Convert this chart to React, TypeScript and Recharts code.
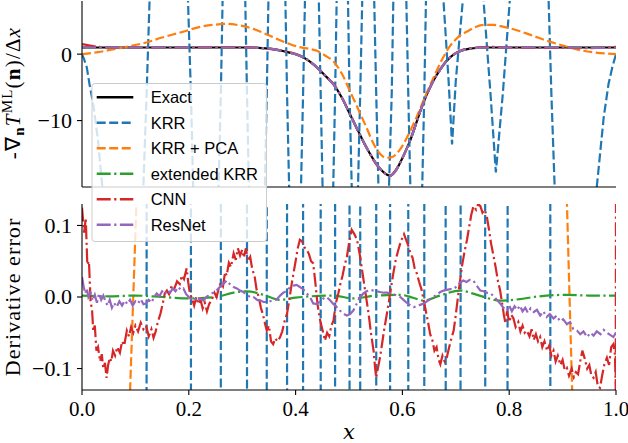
import React from 'react';
import { LineChart, Line, XAxis, YAxis } from 'recharts';

// ---------- ticks / names ----------
const xTicks = [0, 0.2, 0.4, 0.6, 0.8, 1.0];
const topYTicks = [-20, -10, 0];
const bottomYTicks = [-0.1, 0, 0.1];

const seriesNames = ['Exact', 'KRR', 'KRR + PCA', 'extended KRR', 'CNN', 'ResNet'];
const seriesColors = ['#000000', '#1f77b4', '#ff7f0e', '#2ca02c', '#d62728', '#9467bd'];
const seriesDash = ['', '9 3.5', '9 3.5', '14 3.5 2.2 3.5', '14 3.5 2.2 3.5', '14 3.5 2.2 3.5'];

// ---------- top panel: derivative ----------
const topX = [0, 0.05, 0.1, 0.15, 0.2, 0.25, 0.3, 0.33, 0.358, 0.38, 0.408, 0.425, 0.44, 0.455, 0.471, 0.487, 0.502, 0.518, 0.533, 0.552, 0.565, 0.577, 0.587, 0.596, 0.606, 0.615, 0.625, 0.633, 0.645, 0.658, 0.67, 0.683, 0.695, 0.708, 0.725, 0.74, 0.76, 0.8, 0.85, 0.9, 0.95, 1.0];
const exactTop = [1.0, 1.0, 1.0, 1.0, 1.0, 1.0, 1.0, 0.95, 0.75, 0.4, -0.25, -1.0, -2.0, -3.2, -4.55, -6.6, -9.1, -11.7, -14.1, -16.6, -17.8, -18.3, -17.6, -16.3, -14.6, -12.9, -10.6, -8.7, -6.2, -4.0, -2.4, -1.0, -0.1, 0.45, 0.8, 0.95, 1.0, 1.0, 1.0, 1.0, 1.0, 1.0];
const extKrrTop = [1.0, 1.0, 1.0, 1.0, 1.0, 1.0, 1.0, 0.95, 0.75, 0.4, -0.25, -1.0, -2.0, -3.2, -4.55, -6.6, -9.1, -11.7, -14.1, -16.6, -17.8, -18.3, -17.6, -16.3, -14.6, -12.9, -10.6, -8.7, -6.2, -4.0, -2.4, -1.0, -0.1, 0.45, 0.8, 0.95, 1.0, 1.0, 1.0, 1.0, 1.0, 1.0];
const cnnTop = [1.5, 1.0, 1.0, 1.0, 1.0, 1.05, 1.05, 0.95, 0.7, 0.45, -0.2, -1.05, -2.0, -3.25, -4.5, -6.6, -9.0, -11.8, -14.1, -16.7, -17.8, -18.3, -17.5, -16.3, -14.6, -12.8, -10.6, -8.7, -6.3, -4.0, -2.4, -1.0, -0.1, 0.5, 0.85, 1.0, 1.1, 1.0, 0.95, 0.95, 0.9, 1.1];
const resnetTop = [1.0, 1.0, 1.0, 1.0, 1.0, 1.0, 1.0, 0.95, 0.75, 0.4, -0.25, -1.0, -2.0, -3.2, -4.55, -6.6, -9.1, -11.7, -14.1, -16.6, -17.8, -18.3, -17.6, -16.3, -14.6, -12.9, -10.6, -8.7, -6.2, -4.0, -2.4, -1.0, -0.1, 0.45, 0.8, 0.95, 1.0, 1.0, 1.0, 1.0, 0.95, 0.95];

const pcaTop: number[][] = [
  [0, 0], [0.03, 0.3], [0.06, 0.75], [0.09, 1.2], [0.12, 1.75], [0.15, 2.5], [0.184, 3.25], [0.221, 4.1],
  [0.25, 4.45], [0.271, 4.55], [0.3, 4.25], [0.321, 3.8], [0.345, 3.0], [0.365, 2.3], [0.39, 1.5], [0.408, 1.05],
  [0.425, 0.8], [0.44, 0.5], [0.455, -0.2], [0.471, -1.1], [0.487, -3.0], [0.502, -5.6], [0.518, -8.4],
  [0.533, -11.1], [0.546, -13.5], [0.558, -15.0], [0.57, -15.6], [0.58, -15.5], [0.596, -14.3], [0.612, -12.0],
  [0.627, -9.4], [0.643, -6.3], [0.658, -3.6], [0.673, -1.0], [0.689, 1.2], [0.705, 2.6], [0.721, 3.4],
  [0.737, 4.1], [0.752, 4.4], [0.771, 4.4], [0.79, 4.1], [0.808, 3.75], [0.84, 2.9], [0.871, 2.0],
  [0.9, 1.3], [0.933, 0.6], [0.96, 0.25], [1.0, 0.0],
];

const krrTop: number[][] = [
  [0, 0], [0.004, -0.8], [0.009, -2], [0.014, -4.5], [0.021, -7.5], [0.03, -13], [0.038, -20], [0.08, -100],
  [0.121, -6], [0.1625, 100], [0.204, -6], [0.232, -100], [0.26, -6], [0.2845, 100], [0.309, -6],
  [0.3275, -80], [0.346, -6], [0.365, 80], [0.384, -6], [0.399, -60], [0.414, -6], [0.4305, 60],
  [0.447, -6], [0.4605, -60], [0.474, -6], [0.4875, 60], [0.501, -6], [0.511, -40], [0.521, -6],
  [0.536, 50], [0.551, -6], [0.564, -50], [0.58, -6], [0.594, 60], [0.611, -6], [0.626, -60],
  [0.641, -6], [0.66, 80], [0.677, 8], [0.6865, -4], [0.693, -13.6], [0.7, -4], [0.713, 8], [0.732, 100],
  [0.752, 8], [0.765, -6], [0.775, -17.8], [0.788, -6], [0.801, 8], [0.84, 100], [0.879, -6], [0.92, -100],
  [0.964, -20], [0.977, -9.5], [0.986, -4.5], [0.993, -2], [1.0, 0],
];

// ---------- bottom panel: derivative error ----------
const krrErr: number[][] = [
  [0, -1], [0.04, -20], [0.08, -100], [0.121, 0], [0.1625, 100], [0.204, 0], [0.232, -100], [0.26, 0],
  [0.2845, 100], [0.309, 0], [0.3275, -100], [0.346, 0], [0.365, 100], [0.384, 0], [0.399, -100], [0.414, 0],
  [0.4305, 100], [0.447, 0], [0.4605, -100], [0.474, 0], [0.4875, 100], [0.501, 0], [0.511, -100], [0.521, 0],
  [0.536, 100], [0.551, 0], [0.564, -100], [0.577, 0], [0.594, 100], [0.611, 0], [0.626, -100], [0.641, 0],
  [0.66, 100], [0.681, 0], [0.693, -14.6], [0.709, 0], [0.732, 100], [0.755, 0], [0.777, -18.8], [0.797, 0],
  [0.84, 100], [0.877, 0], [0.92, -100], [0.964, -21], [1.0, -1],
];

const pcaErr: number[][] = [
  [0, -1], [0.04, -0.9], [0.08, -0.35], [0.096, 0], [0.115, 0.42], [0.2, 3.2], [0.3, 3.3], [0.4, 1.2],
  [0.45, 2.3], [0.5, 3.5], [0.577, 2.7], [0.63, 3.0], [0.7, 2.3], [0.77, 3.4], [0.85, 1.8], [0.88, 0.8],
  [0.9, 0.35], [0.913, 0], [0.93, -0.45], [1.0, -1],
];

const extErr: number[][] = [
  [0, 0.002], [0.05, 0.001], [0.1, 0.002], [0.15, 0.0], [0.2, -0.002], [0.25, 0.0], [0.284, 0.006],
  [0.309, 0.008], [0.34, 0.003], [0.37, -0.004], [0.4, -0.001], [0.43, 0.001], [0.471, 0.002],
  [0.508, -0.002], [0.55, 0.002], [0.596, 0.003], [0.62, -0.001], [0.64, -0.005], [0.67, 0.002],
  [0.708, 0.009], [0.74, 0.003], [0.783, -0.005], [0.82, -0.003], [0.846, 0.0], [0.908, 0.003],
  [0.95, 0.002], [1.0, 0.002],
];

const cnnErr: number[][] = [
  [0, 0.125], [0.004, 0.09], [0.007, 0.11], [0.01, 0.045], [0.013, 0.05], [0.016, -0.005], [0.019, -0.02],
  [0.021, -0.047], [0.024, -0.04], [0.027, -0.075], [0.03, -0.07], [0.034, -0.09], [0.037, -0.08],
  [0.04, -0.1], [0.043, -0.092], [0.046, -0.113], [0.049, -0.095], [0.052, -0.085], [0.055, -0.09],
  [0.058, -0.075], [0.062, -0.082], [0.066, -0.07], [0.071, -0.078], [0.075, -0.062], [0.079, -0.068],
  [0.084, -0.047], [0.088, -0.055], [0.092, -0.042], [0.096, -0.05], [0.1, -0.04], [0.105, -0.048],
  [0.11, -0.036], [0.115, -0.045], [0.12, -0.04], [0.125, -0.055], [0.13, -0.045], [0.134, -0.057],
  [0.138, -0.048], [0.142, -0.035], [0.147, -0.023], [0.151, -0.01], [0.155, 0.005], [0.159, 0.009],
  [0.163, 0.004], [0.168, 0.016], [0.173, 0.012], [0.178, 0.022], [0.183, 0.018], [0.187, 0.03],
  [0.191, 0.025], [0.196, 0.04], [0.199, 0.02], [0.202, 0.005], [0.206, -0.002], [0.21, -0.012],
  [0.214, 0.0], [0.218, -0.01], [0.222, -0.004], [0.226, -0.016], [0.23, -0.008], [0.234, -0.02],
  [0.238, -0.01], [0.243, -0.004], [0.248, 0.006], [0.252, 0.0], [0.256, 0.012], [0.26, 0.02],
  [0.264, 0.015], [0.268, 0.035], [0.271, 0.03], [0.275, 0.048], [0.279, 0.042], [0.284, 0.061],
  [0.288, 0.052], [0.292, 0.068], [0.296, 0.058], [0.3, 0.066], [0.303, 0.055], [0.307, 0.068],
  [0.311, 0.05], [0.315, 0.056], [0.319, 0.038], [0.323, 0.03], [0.327, 0.01], [0.331, 0.0],
  [0.335, -0.015], [0.339, -0.025], [0.343, -0.038], [0.346, -0.047], [0.35, -0.04], [0.354, -0.062],
  [0.358, -0.066], [0.362, -0.058], [0.366, -0.062], [0.371, -0.056], [0.375, -0.048], [0.379, -0.035],
  [0.384, -0.023], [0.388, -0.005], [0.392, 0.015], [0.396, 0.033], [0.4, 0.05], [0.404, 0.068],
  [0.408, 0.08], [0.412, 0.078], [0.416, 0.07], [0.421, 0.066], [0.425, 0.06], [0.429, 0.05],
  [0.433, 0.047], [0.437, 0.02], [0.441, -0.01], [0.446, -0.033], [0.45, -0.045], [0.455, -0.061],
  [0.459, -0.05], [0.463, -0.055], [0.467, -0.04], [0.471, -0.033], [0.475, -0.01], [0.48, 0.005],
  [0.484, 0.019], [0.488, 0.03], [0.492, 0.045], [0.496, 0.056], [0.5, 0.075], [0.505, 0.094],
  [0.51, 0.088], [0.515, 0.08], [0.52, 0.06], [0.525, 0.035], [0.529, 0.015], [0.533, -0.005],
  [0.537, -0.025], [0.541, -0.05], [0.546, -0.075], [0.549, -0.1], [0.551, -0.113], [0.554, -0.1],
  [0.558, -0.085], [0.562, -0.065], [0.566, -0.045], [0.571, -0.023], [0.575, -0.005], [0.579, 0.015],
  [0.583, 0.033], [0.587, 0.05], [0.592, 0.065], [0.596, 0.075], [0.6, 0.083], [0.603, 0.088],
  [0.607, 0.08], [0.611, 0.072], [0.615, 0.061], [0.619, 0.055], [0.623, 0.04], [0.627, 0.033],
  [0.631, 0.022], [0.636, 0.01], [0.64, -0.005], [0.644, -0.02], [0.648, -0.035], [0.652, -0.052],
  [0.656, -0.06], [0.66, -0.075], [0.664, -0.07], [0.668, -0.088], [0.671, -0.094], [0.675, -0.082],
  [0.679, -0.09], [0.683, -0.085], [0.687, -0.072], [0.691, -0.06], [0.696, -0.047], [0.7, -0.025],
  [0.704, 0.0], [0.708, 0.023], [0.712, 0.045], [0.716, 0.062], [0.721, 0.08], [0.725, 0.098],
  [0.729, 0.115], [0.733, 0.127], [0.738, 0.122], [0.742, 0.13], [0.746, 0.127], [0.75, 0.118],
  [0.754, 0.122], [0.758, 0.113], [0.762, 0.095], [0.766, 0.075], [0.771, 0.056], [0.775, 0.04],
  [0.779, 0.022], [0.783, 0.009], [0.787, -0.01], [0.79, -0.025], [0.793, -0.037], [0.796, -0.02],
  [0.8, -0.035], [0.804, -0.025], [0.808, -0.03], [0.812, -0.042], [0.817, -0.035], [0.821, -0.048],
  [0.825, -0.04], [0.829, -0.05], [0.833, -0.047], [0.838, -0.055], [0.842, -0.045], [0.846, -0.06],
  [0.85, -0.052], [0.854, -0.062], [0.858, -0.056], [0.862, -0.07], [0.866, -0.062], [0.871, -0.075],
  [0.875, -0.068], [0.879, -0.082], [0.883, -0.075], [0.887, -0.09], [0.891, -0.082], [0.896, -0.095],
  [0.9, -0.088], [0.904, -0.102], [0.908, -0.099], [0.912, -0.11], [0.917, -0.1], [0.921, -0.112],
  [0.925, -0.105], [0.929, -0.108], [0.933, -0.09], [0.937, -0.075], [0.941, -0.085], [0.946, -0.1],
  [0.95, -0.095], [0.954, -0.11], [0.958, -0.113], [0.962, -0.105], [0.966, -0.125], [0.97, -0.127],
  [0.974, -0.11], [0.978, -0.095], [0.983, -0.085], [0.987, -0.095], [0.991, -0.07], [0.995, -0.066],
  [0.998, -0.08], [0.9995, -0.13], [1.0, 0.15],
];

const resnetErr: number[][] = [
  [0, 0.028], [0.003, 0.015], [0.006, 0.005], [0.009, 0.012], [0.012, 0.0], [0.016, 0.006], [0.02, -0.005],
  [0.024, 0.003], [0.028, -0.008], [0.032, 0.005], [0.036, -0.004], [0.04, 0.002], [0.044, -0.006],
  [0.048, -0.012], [0.052, -0.004], [0.056, -0.015], [0.06, -0.008], [0.065, -0.014], [0.07, -0.006],
  [0.075, -0.012], [0.08, -0.005], [0.085, -0.01], [0.09, -0.004], [0.095, -0.012], [0.1, -0.006],
  [0.105, -0.009], [0.11, -0.003], [0.115, -0.01], [0.12, -0.009], [0.125, -0.004], [0.13, -0.008],
  [0.135, 0.0], [0.14, 0.005], [0.145, 0.001], [0.15, 0.008], [0.155, 0.004], [0.16, 0.01], [0.165, 0.006],
  [0.17, 0.012], [0.175, 0.008], [0.18, 0.014], [0.185, 0.01], [0.19, 0.012], [0.195, 0.004], [0.2, 0.0],
  [0.205, -0.003], [0.21, -0.001], [0.215, -0.006], [0.22, -0.002], [0.227, -0.005], [0.233, 0.0],
  [0.24, 0.004], [0.246, 0.006], [0.252, 0.009], [0.258, 0.014], [0.264, 0.018], [0.271, 0.023],
  [0.277, 0.018], [0.284, 0.014], [0.29, 0.012], [0.296, 0.009], [0.302, 0.007], [0.309, 0.003],
  [0.315, 0.0], [0.321, 0.0], [0.328, -0.004], [0.334, -0.005], [0.34, -0.007], [0.346, -0.007],
  [0.352, -0.006], [0.358, -0.005], [0.365, -0.003], [0.371, 0.002], [0.377, 0.006], [0.384, 0.009],
  [0.39, 0.014], [0.396, 0.016], [0.402, 0.017], [0.408, 0.014], [0.414, 0.011], [0.421, 0.005],
  [0.427, 0.0], [0.433, -0.009], [0.44, -0.01], [0.446, -0.006], [0.452, -0.002], [0.458, 0.0],
  [0.465, -0.005], [0.471, -0.01], [0.477, -0.014], [0.483, -0.019], [0.489, -0.023], [0.496, -0.026],
  [0.502, -0.024], [0.508, -0.019], [0.514, -0.01], [0.521, 0.0], [0.527, 0.005], [0.533, 0.008],
  [0.54, 0.01], [0.546, 0.009], [0.552, 0.008], [0.558, 0.007], [0.565, 0.006], [0.571, 0.006],
  [0.577, 0.005], [0.583, 0.004], [0.59, 0.002], [0.596, 0.0], [0.602, -0.004], [0.608, -0.008],
  [0.615, -0.012], [0.621, -0.014], [0.627, -0.013], [0.633, -0.011], [0.64, -0.009], [0.646, -0.006],
  [0.652, -0.003], [0.658, 0.0], [0.665, 0.004], [0.671, 0.007], [0.677, 0.009], [0.683, 0.01],
  [0.69, 0.011], [0.696, 0.011], [0.702, 0.015], [0.708, 0.02], [0.714, 0.023], [0.72, 0.021],
  [0.726, 0.024], [0.733, 0.023], [0.739, 0.016], [0.746, 0.009], [0.752, 0.008], [0.758, 0.006],
  [0.765, 0.005], [0.771, 0.001], [0.777, -0.004], [0.783, -0.009], [0.789, -0.015], [0.796, -0.019],
  [0.8, -0.012], [0.805, -0.02], [0.81, -0.013], [0.815, -0.018], [0.82, -0.012], [0.825, -0.02],
  [0.83, -0.015], [0.835, -0.022], [0.84, -0.016], [0.846, -0.021], [0.852, -0.018], [0.858, -0.026],
  [0.864, -0.02], [0.87, -0.028], [0.876, -0.024], [0.883, -0.03], [0.889, -0.026], [0.895, -0.034],
  [0.901, -0.031], [0.908, -0.038], [0.914, -0.035], [0.92, -0.045], [0.927, -0.047], [0.933, -0.052],
  [0.939, -0.048], [0.946, -0.056], [0.952, -0.05], [0.958, -0.054], [0.964, -0.048], [0.971, -0.052],
  [0.977, -0.046], [0.983, -0.05], [0.989, -0.053], [0.995, -0.056], [1.0, -0.05],
];

// ---------- helpers ----------
const serif = 'Liberation Serif';
const italicSerif = 'DejaVu Serif';
const sans = 'Liberation Sans';
const toPts = (arr: number[][]) => arr.map(([x, y]) => ({ x, y }));
const colPts = (ys: number[]) => topX.map((x, i) => ({ x, y: ys[i] }));
const minus = (s: string) => s.replace('-', '\u2212');

const W = 628;
const PLOT_LEFT = 82;
const PLOT_RIGHT_MARGIN = 12;
const TOP_H = 192;
const BOT_H = 251;
const FRAME = { stroke: '#000', strokeWidth: 1.1 };
const serifStyle = { fontFamily: serif };

const YTickTop = (props: any) => {
  const { x, y, payload } = props;
  return (
    <text x={x} y={y} dy="0.34em" textAnchor="end" style={serifStyle} fontSize={22} fill="#000">
      {minus(String(payload.value))}
    </text>
  );
};

const YTickBottom = (props: any) => {
  const { x, y, payload } = props;
  return (
    <text x={x} y={y} dy="0.34em" textAnchor="end" style={serifStyle} fontSize={22} fill="#000">
      {minus(Number(payload.value).toFixed(1))}
    </text>
  );
};

const XTickBottom = (props: any) => {
  const { x, y, payload } = props;
  return (
    <text x={x} y={y} dy="0.68em" textAnchor="middle" style={serifStyle} fontSize={21} fill="#000">
      {Number(payload.value).toFixed(1)}
    </text>
  );
};

const TopYLabel = () => {
  const cx = 19.5;
  const cy = 93;
  return (
    <text
      x={cx}
      y={cy}
      transform={`rotate(-90, ${cx}, ${cy})`}
      textAnchor="middle"
      style={serifStyle}
      fontSize={21}
      letterSpacing={1.2}
      fill="#000"
    >
      <tspan>-∇</tspan>
      <tspan fontWeight="bold" fontSize={15} dy={4}>n</tspan>
      <tspan fontStyle="italic" dy={-4}>T</tspan>
      <tspan fontSize={15} dy={-8}>ML</tspan>
      <tspan dy={8}>(</tspan>
      <tspan fontWeight="bold">n</tspan>
      <tspan>)/Δ</tspan>
      <tspan fontStyle="italic">x</tspan>
    </text>
  );
};

const BottomYLabel = () => {
  const cx = 19.5;
  const cy = 105;
  return (
    <text
      x={cx}
      y={cy}
      transform={`rotate(-90, ${cx}, ${cy})`}
      textAnchor="middle"
      style={serifStyle}
      fontSize={22}
      letterSpacing={1.1}
      fill="#000"
    >
      Derivative error
    </text>
  );
};

const XLabel = () => (
  <text x={349} y={247} textAnchor="middle" style={{ fontFamily: italicSerif }} fontStyle="italic" fontSize={21} fill="#000">
    x
  </text>
);

const lineProps = (i: number) => ({
  stroke: seriesColors[i],
  strokeWidth: 2.2,
  strokeDasharray: seriesDash[i] || undefined,
  dot: false as const,
  activeDot: false as const,
  isAnimationActive: false,
  dataKey: 'y',
  name: seriesNames[i],
});

const Legend = () => {
  const left = 92;
  const top = 83.5;
  const rows = [97.3, 122.8, 148.3, 173.8, 199.3, 224.8];
  return (
    <svg
      width={W}
      height={443}
      style={{ position: 'absolute', left: 0, top: 0, pointerEvents: 'none' }}
    >
      <rect x={left} y={top} width={174.5} height={158} rx={3} ry={3} fill="rgba(255,255,255,0.8)" stroke="#cccccc" strokeWidth={1} />
      {seriesNames.map((name, i) => (
        <g key={name}>
          <line
            x1={96.7}
            x2={133.3}
            y1={rows[i]}
            y2={rows[i]}
            stroke={seriesColors[i]}
            strokeWidth={2.4}
            strokeDasharray={seriesDash[i] || undefined}
          />
          <text x={150.7} y={rows[i] + 6} style={{ fontFamily: sans }} fontSize={16.5} fill="#000">
            {name}
          </text>
        </g>
      ))}
    </svg>
  );
};

export default function App() {
  return (
    <div style={{ position: 'fixed', left: 0, top: 0, width: W, height: 443, background: '#fff' }}>
      <div style={{ position: 'absolute', left: 0, top: 0 }}>
        <LineChart width={W} height={TOP_H} margin={{ top: 1, right: PLOT_RIGHT_MARGIN, bottom: 0, left: 0 }}>
          <XAxis
            dataKey="x"
            type="number"
            domain={[0, 1]}
            ticks={xTicks}
            allowDataOverflow
            height={5}
            tickSize={5}
            tick={false}
            axisLine={FRAME}
            tickLine={FRAME}
          />
          <XAxis xAxisId="top" orientation="top" type="number" domain={[0, 1]} height={0} tick={false} tickLine={false} axisLine={FRAME} />
          <YAxis
            type="number"
            domain={[-20, 8]}
            ticks={topYTicks}
            allowDataOverflow
            width={PLOT_LEFT}
            tickSize={5}
            tickMargin={5}
            tick={<YTickTop />}
            axisLine={FRAME}
            tickLine={FRAME}
            label={<TopYLabel />}
          />
          <YAxis yAxisId="right" orientation="right" type="number" domain={[0, 1]} width={0} tick={false} tickLine={false} axisLine={FRAME} />
          <Line {...lineProps(0)} data={colPts(exactTop)} type="monotone" />
          <Line {...lineProps(1)} data={toPts(krrTop)} type="linear" />
          <Line {...lineProps(2)} data={toPts(pcaTop)} type="monotone" />
          <Line {...lineProps(3)} data={colPts(extKrrTop)} type="monotone" />
          <Line {...lineProps(4)} data={colPts(cnnTop)} type="monotone" />
          <Line {...lineProps(5)} data={colPts(resnetTop)} type="monotone" />
        </LineChart>
      </div>
      <div style={{ position: 'absolute', left: 0, top: TOP_H }}>
        <LineChart width={W} height={BOT_H} margin={{ top: 12, right: PLOT_RIGHT_MARGIN, bottom: 0, left: 0 }}>
          <XAxis
            dataKey="x"
            type="number"
            domain={[0, 1]}
            ticks={xTicks}
            allowDataOverflow
            height={53}
            tickSize={5}
            tickMargin={7}
            tick={<XTickBottom />}
            axisLine={FRAME}
            tickLine={FRAME}
            label={<XLabel />}
          />
          <XAxis xAxisId="top" orientation="top" type="number" domain={[0, 1]} height={0} tick={false} tickLine={false} axisLine={FRAME} />
          <YAxis
            type="number"
            domain={[-0.13, 0.13]}
            ticks={bottomYTicks}
            allowDataOverflow
            width={PLOT_LEFT}
            tickSize={5}
            tickMargin={5}
            tick={<YTickBottom />}
            axisLine={FRAME}
            tickLine={FRAME}
            label={<BottomYLabel />}
          />
          <YAxis yAxisId="right" orientation="right" type="number" domain={[0, 1]} width={0} tick={false} tickLine={false} axisLine={FRAME} />
          <Line {...lineProps(1)} data={toPts(krrErr)} type="linear" />
          <Line {...lineProps(2)} data={toPts(pcaErr)} type="linear" />
          <Line {...lineProps(3)} data={toPts(extErr)} type="monotone" />
          <Line {...lineProps(4)} data={toPts(cnnErr)} type="linear" />
          <Line {...lineProps(5)} data={toPts(resnetErr)} type="linear" />
        </LineChart>
      </div>
      <Legend />
    </div>
  );
}
